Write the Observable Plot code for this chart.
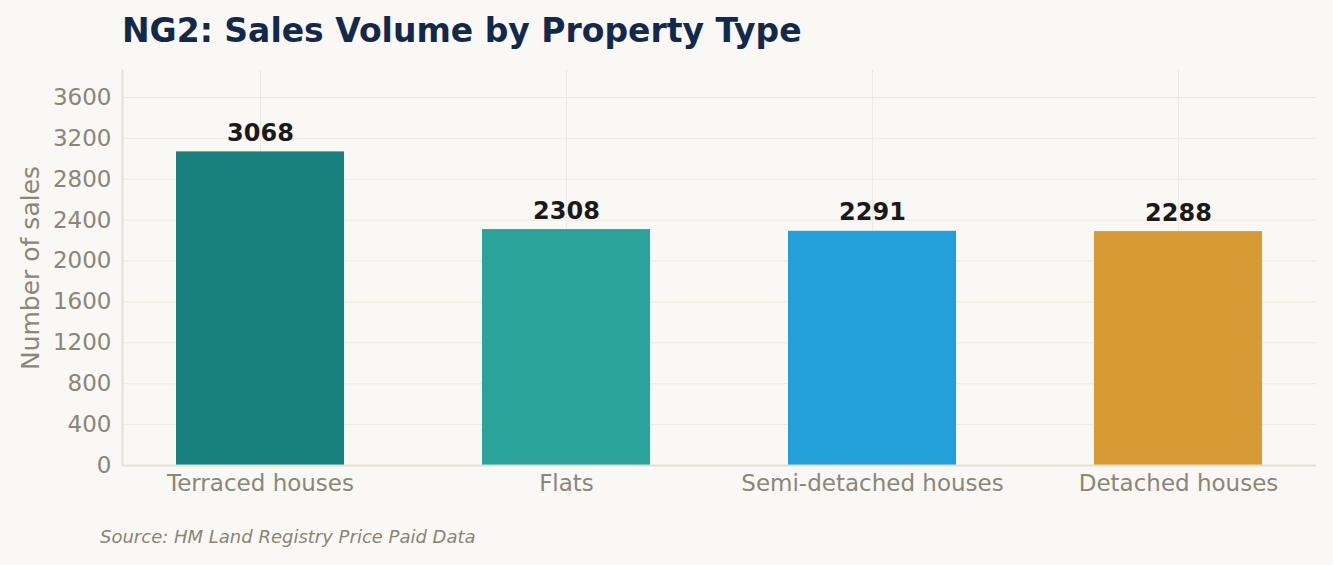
<!DOCTYPE html>
<html>
<head>
<meta charset="utf-8">
<script src="https://cdn.jsdelivr.net/npm/d3@7"></script>
<script src="https://cdn.jsdelivr.net/npm/@observablehq/plot@0.6"></script>
<style>
  html, body { margin: 0; padding: 0; background: #f9f8f4; }
  body { width: 1333px; height: 565px; position: relative; overflow: hidden; font-family: "DejaVu Sans", sans-serif; }
  #title { position: absolute; left: 122px; top: 11px; font-size: 33px; font-weight: bold; color: #13294b; white-space: nowrap; }
  #chart { position: absolute; left: 0; top: 60px; }
  #source { position: absolute; left: 100px; top: 526px; font-size: 18px; font-style: italic; color: #8a8474; white-space: nowrap; }
</style>
</head>
<body>
<div id="title">NG2: Sales Volume by Property Type</div>
<div id="chart"></div>
<div id="source">Source: HM Land Registry Price Paid Data</div>
<script>
const categories = ["Terraced houses", "Flats", "Semi-detached houses", "Detached houses"];
const sales = [3068, 2308, 2291, 2288];
const barColors = ["#17807e", "#2aa39a", "#239fd9", "#d89a35"];
const yTicks = [0, 400, 800, 1200, 1600, 2000, 2400, 2800, 3200, 3600];

const data = categories.map((c, i) => ({category: c, value: sales[i], color: barColors[i]}));

const chart = Plot.plot({
  width: 1333,
  height: 445,
  marginLeft: 122,
  marginRight: 17,
  marginTop: 10,
  marginBottom: 40,
  style: {background: "transparent", fontFamily: "DejaVu Sans, sans-serif", overflow: "visible"},
  x: {domain: categories, paddingInner: 0.45, paddingOuter: 0.172, label: null},
  y: {domain: [0, 3864], label: null},
  marks: [
    Plot.ruleY(yTicks, {stroke: "#ece9e0", strokeWidth: 1}),
    Plot.ruleX(categories, {x: d => d, stroke: "#ece9e0", strokeWidth: 1}),
    Plot.barY(data, {x: "category", y: "value", fill: "color"}),
    Plot.text(data, {x: "category", y: "value", text: d => String(d.value), lineAnchor: "bottom", dy: -11, fontSize: 24, fontWeight: "bold", fill: "#1a1a1a"}),
    Plot.axisY({ticks: yTicks, tickFormat: d => String(d), tickSize: 0, tickPadding: 11, fontSize: 23, fill: "#8b8677", label: null}),
    Plot.axisX({tickSize: 0, tickPadding: 9, fontSize: 23, fill: "#8b8677", label: null}),
    Plot.ruleY([0], {stroke: "#e3dfd2", strokeWidth: 2}),
    Plot.frame({anchor: "left", stroke: "#e3dfd2", strokeWidth: 2}),
    Plot.text(["Number of sales"], {frameAnchor: "left", dx: -92, rotate: -90, fontSize: 25, fill: "#8b8677", textAnchor: "middle"})
  ]
});
document.getElementById("chart").appendChild(chart);
</script>
</body>
</html>
